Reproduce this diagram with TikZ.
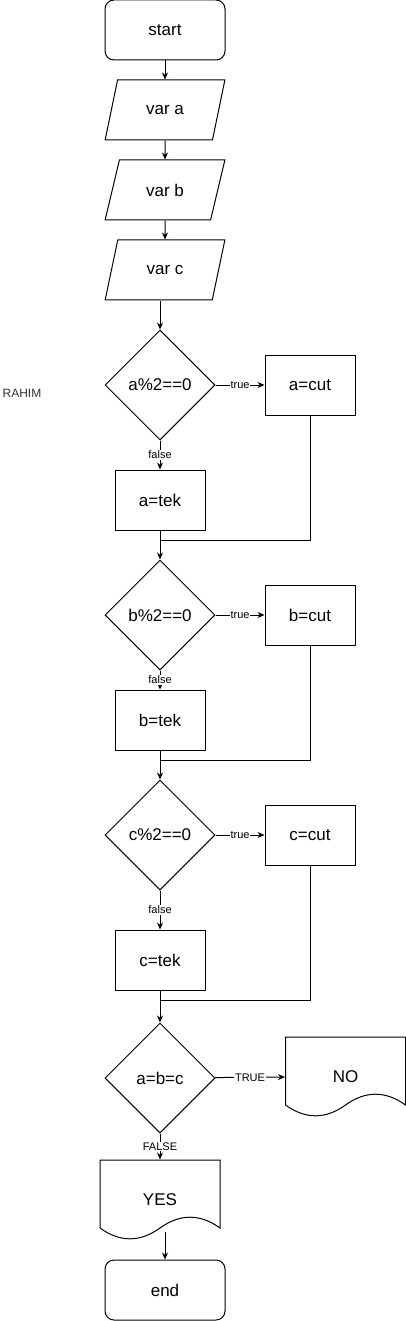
\documentclass[tikz,border=0pt]{standalone}
\usepackage{fontspec}
\setmainfont{Liberation Sans}
\usetikzlibrary{shapes.geometric}
\usetikzlibrary{arrows.meta}

% outline of a document box (wavy bottom)
\newcommand{\docwave}[1]{%
  \draw ([shift={(-60,-40)}]#1.center) -- ([shift={(60,-40)}]#1.center)
    -- ([shift={(60,28)}]#1.center)
    .. controls ([shift={(40,13.6)}]#1.center) and ([shift={(20,13.6)}]#1.center) .. ([shift={(0,28)}]#1.center)
    .. controls ([shift={(-20,42.4)}]#1.center) and ([shift={(-40,42.4)}]#1.center) .. ([shift={(-60,28)}]#1.center)
    -- cycle;}

\begin{document}
\begin{tikzpicture}
[x=1pt,y=-1pt,line width=1pt,font=\fontsize{17}{20}\selectfont,
 term/.style={rectangle,rounded corners=9pt,draw,minimum width=120pt,minimum height=60pt},
 io/.style={trapezium,trapezium left angle=70,trapezium right angle=110,trapezium stretches=true,draw,minimum width=120pt,minimum height=60pt},
 cond/.style={diamond,draw,minimum width=110pt,minimum height=110pt,inner sep=0pt},
 proc/.style={rectangle,draw,minimum width=90pt,minimum height=60pt},
 doc/.style={rectangle,minimum width=120pt,minimum height=80pt},
 lbl/.style={fill=white,inner sep=1pt,font=\fontsize{11}{13}\selectfont},
 arr/.style={-{Stealth[length=7pt,width=6pt]}}]
\useasboundingbox (0,0) rectangle (406,1321);
\node (rahim) at (22,393) [font=\fontsize{12}{14}\selectfont,text=black!80] {RAHIM};
\node (start) at (165,30) [term] {start};
\node (vara) at (165,110) [io] {var a};
\node (varb) at (165,190) [io] {var b};
\node (varc) at (165,270) [io] {var c};
%a
\node (conda) at (160,385) [cond] {a\%2==0};
\node (acut) at (310,385) [proc] {a=cut};
\node (atek) at (160,500) [proc] {a=tek};
\coordinate (joina) at (160,540);
%b
\node (condb) at (160,615) [cond] {b\%2==0};
\node (bcut) at (310,615) [proc] {b=cut};
\node (btek) at (160,720) [proc] {b=tek};
\coordinate (joinb) at (160,760);
%c
\node (condc) at (160,835) [cond] {c\%2==0};
\node (ccut) at (310,835) [proc] {c=cut};
\node (ctek) at (160,960) [proc] {c=tek};
\coordinate (joinc) at (160,1000);
%result
\node (same) at (160,1078) [cond] {a=b=c};
\node (no) at (345.5,1077) [doc] {NO};
\node (yes) at (160,1200) [doc] {YES};
\node (stop) at (165,1290) [term] {end};
\docwave{no}
\docwave{yes}
\coordinate (yesout) at ([shift={(0,32)}]yes.center);

\path (start) edge[arr] (vara)
      (vara) edge[arr] (varb)
      (varb) edge[arr] (varc);
\draw[arr] (varc.south -| conda.north) -- (conda.north);
\path (conda) edge[arr] node[lbl] {true} (acut)
      (conda) edge[arr] node[lbl] {false} (atek)
      (atek) edge[arr] (condb)
      (condb) edge[arr] node[lbl] {true} (bcut)
      (condb) edge[arr] node[lbl] {false} (btek)
      (btek) edge[arr] (condc)
      (condc) edge[arr] node[lbl] {true} (ccut)
      (condc) edge[arr] node[lbl] {false} (ctek)
      (ctek) edge[arr] (same)
      (same) edge[arr] node[lbl] {TRUE} (no.west)
      (same) edge[arr] node[lbl] {FALSE} (yes.north);
\draw (acut) |- (joina);
\draw (bcut) |- (joinb);
\draw (ccut) |- (joinc);
\draw[arr] (stop.north |- yesout) -- (stop.north);
\end{tikzpicture}
\end{document}
